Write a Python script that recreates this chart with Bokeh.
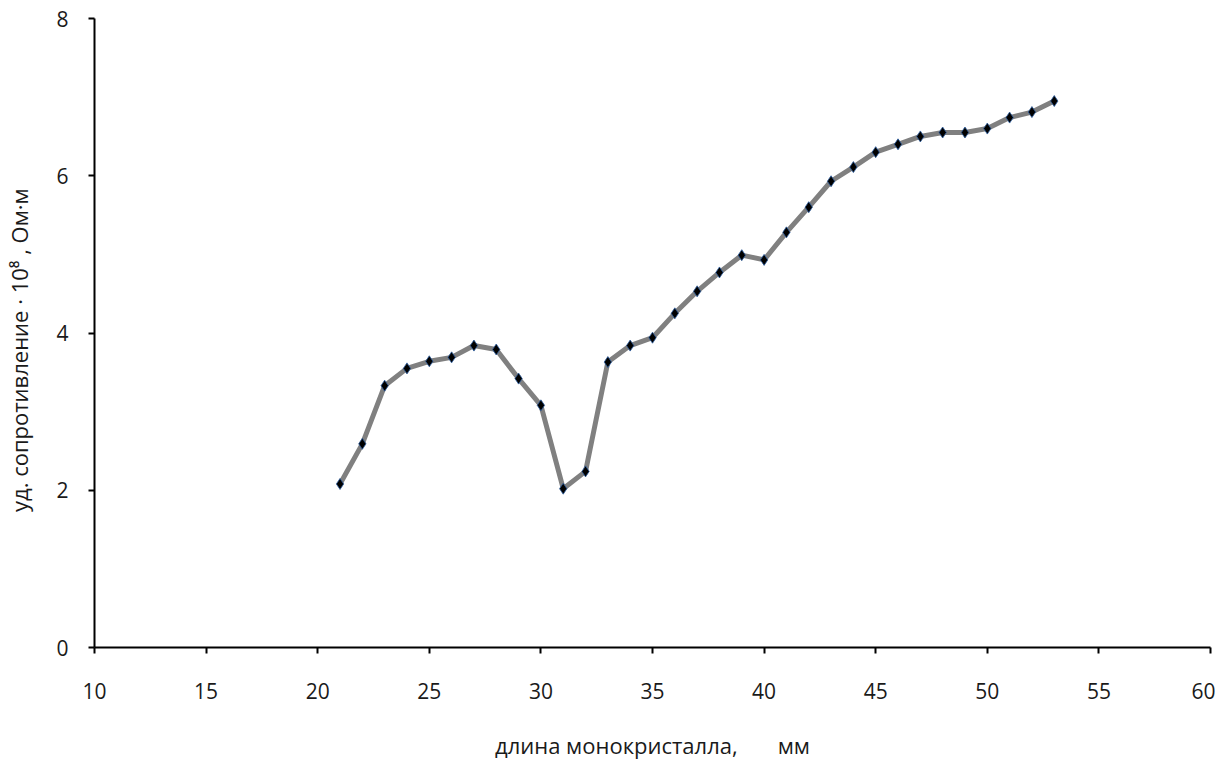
from bokeh.plotting import figure
from bokeh.models import Range1d, FixedTicker
from bokeh.embed import file_html
from bokeh.resources import INLINE

length_mm = [21, 22, 23, 24, 25, 26, 27, 28, 29, 30, 31, 32, 33, 34, 35, 36, 37,
             38, 39, 40, 41, 42, 43, 44, 45, 46, 47, 48, 49, 50, 51, 52, 53]
resistivity = [2.08, 2.59, 3.33, 3.55, 3.64, 3.69, 3.84, 3.79, 3.42, 3.08, 2.02,
               2.24, 3.63, 3.84, 3.94, 4.25, 4.53, 4.77, 4.99, 4.93, 5.28, 5.60,
               5.93, 6.11, 6.30, 6.40, 6.50, 6.55, 6.55, 6.60, 6.74, 6.81, 6.95]
x_ticks = [10, 15, 20, 25, 30, 35, 40, 45, 50, 55, 60]
y_ticks = [0, 2, 4, 6, 8]

FONT = "Open Sans"
TXT = "#1a1a1a"

p = figure(width=1215, height=762, output_backend="svg", toolbar_location=None,
           x_range=Range1d(10, 60), y_range=Range1d(0, 8),
           min_border_left=94, min_border_right=5, min_border_top=18,
           min_border_bottom=115)
p.outline_line_color = None
p.grid.visible = False

p.line(length_mm, resistivity, line_color="#808080", line_width=5)
p.scatter(length_mm, resistivity, marker="diamond", size=11,
          fill_color="black", line_color="#2b5c9e", line_width=0.8)

xa = p.xaxis[0]
xa.ticker = FixedTicker(ticks=x_ticks)
xa.axis_label = "длина монокристалла," + "\u00a0" * 7 + "мм"
xa.axis_line_width = 2
xa.axis_line_color = "black"
xa.major_tick_line_width = 2
xa.major_tick_out = 6
xa.major_tick_in = 0
xa.minor_tick_line_color = None
xa.major_label_standoff = 29
xa.axis_label_standoff = 28
xa.major_label_text_font = FONT
xa.major_label_text_font_size = "21px"
xa.major_label_text_color = TXT
xa.axis_label_text_font = FONT
xa.axis_label_text_font_size = "22px"
xa.axis_label_text_font_style = "normal"
xa.axis_label_text_color = TXT

ya = p.yaxis[0]
ya.ticker = FixedTicker(ticks=y_ticks)
ya.axis_label = "уд. сопротивление · 10⁸ , Ом·м" + "\u00a0" * 6
ya.axis_line_width = 2
ya.axis_line_color = "black"
ya.major_tick_line_width = 2
ya.major_tick_out = 6
ya.major_tick_in = 0
ya.minor_tick_line_color = None
ya.major_label_standoff = 20
ya.axis_label_standoff = 19
ya.major_label_text_font = FONT
ya.major_label_text_font_size = "21px"
ya.major_label_text_color = TXT
ya.axis_label_text_font = FONT
ya.axis_label_text_font_size = "22px"
ya.axis_label_text_font_style = "normal"
ya.axis_label_text_color = TXT

open("out.html", "w").write(file_html(p, INLINE))
